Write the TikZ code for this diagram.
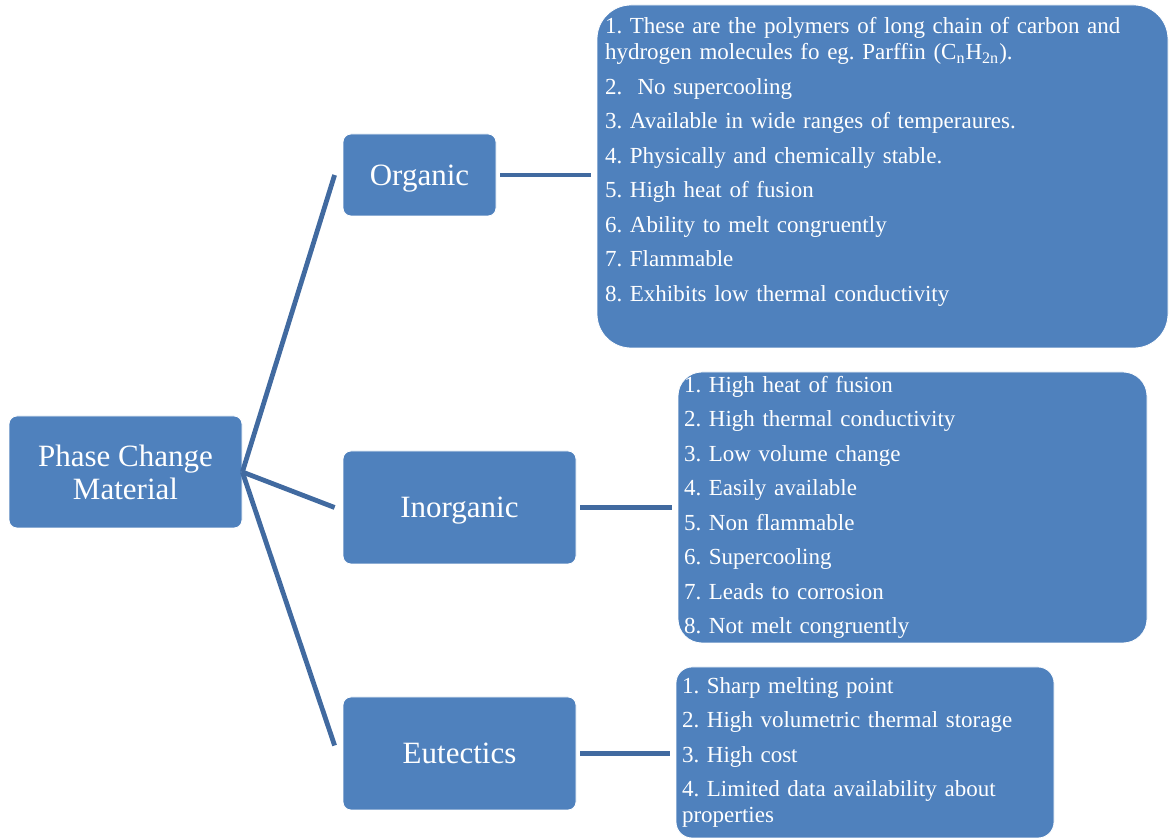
\documentclass[tikz,border=0pt]{standalone}
\usepackage{fontspec}
\setmainfont{Liberation Serif}
\usepackage{tikz}
\usetikzlibrary{positioning}
\definecolor{pcmblue}{RGB}{79,129,189}
\definecolor{pcmline}{RGB}{65,106,160}
\frenchspacing

\begin{document}
\begin{tikzpicture}[
    x=0.5pt, y=-0.5pt,
    every node/.style={fill=pcmblue, text=white, draw=white, line width=0.4pt, inner sep=0pt},
    catbox/.style={rounded corners=4pt, align=center, font=\fontsize{15.5}{16.5}\selectfont},
    listbox/.style={align=left, font=\fontsize{11.5}{13}\selectfont},
    link/.style={draw=pcmline, line width=2.4pt}
]

    \useasboundingbox (0,0) rectangle (1169,838);

    \node[catbox, minimum width=116.5pt, minimum height=56pt] (pcm) at (125.5,472) {Phase Change\\Material};
    \node[catbox, text depth=0pt, minimum width=76.5pt, minimum height=41pt] (org) at (419.5,175) {Organic};
    \node[catbox, text depth=0pt, minimum width=116.5pt, minimum height=56.5pt] (inorg) at (459.5,507.5) {Inorganic};
    \node[catbox, minimum width=116.5pt, minimum height=56.5pt] (eut) at (459.5,753.5) {Eutectics};

    \node[listbox, rounded corners=17pt, text width=277.5pt, inner xsep=4pt, minimum height=171.5pt] (orglist) at (882.5,176.5) {%
        1. These are the polymers of long chain of carbon and\\
        hydrogen molecules fo eg. Parffin (C\textsubscript{n}H\textsubscript{2n}).\\[4.25pt]
        2.~ No supercooling\\[4.25pt]
        3. Available in wide ranges of temperaures.\\[4.25pt]
        4. Physically and chemically stable.\\[4.25pt]
        5. High heat of fusion\\[4.25pt]
        6. Ability to melt congruently\\[4.25pt]
        7. Flammable\\[4.25pt]
        8. Exhibits low thermal conductivity\\[4.25pt]
        \mbox{}};
    \node[listbox, rounded corners=12pt, text width=228.5pt, inner xsep=3pt, minimum height=135.5pt] (inorglist) at (912.5,507.5) {%
        1. High heat of fusion\\[4.25pt]
        2. High thermal conductivity\\[4.25pt]
        3. Low volume change\\[4.25pt]
        4. Easily available\\[4.25pt]
        5. Non flammable\\[4.25pt]
        6. Supercooling\\[4.25pt]
        7. Leads to corrosion\\[4.25pt]
        8. Not melt congruently};
    \node[listbox, rounded corners=8pt, text width=183pt, inner xsep=3pt, minimum height=85.5pt] (eutlist) at (865,752.5) {%
        1. Sharp melting point\\[4.25pt]
        2. High volumetric thermal storage\\[4.25pt]
        3. High cost\\[4.25pt]
        4. Limited data availability about\\
        properties};

    \draw[link] (pcm.east) -- ([xshift=-4pt]org.west);
    \draw[link] (pcm.east) -- ([xshift=-4pt]inorg.west);
    \draw[link] (pcm.east) -- ([xshift=-4pt,yshift=4pt]eut.west);

    \draw[link, shorten <=2pt, shorten >=3pt] (org.east) -- (org.east -| orglist.west);
    \draw[link, shorten <=2pt, shorten >=3pt] (inorg.east) -- (inorg.east -| inorglist.west);
    \draw[link, shorten <=2pt, shorten >=3pt] (eut.east) -- (eut.east -| eutlist.west);

\end{tikzpicture}
\end{document}
